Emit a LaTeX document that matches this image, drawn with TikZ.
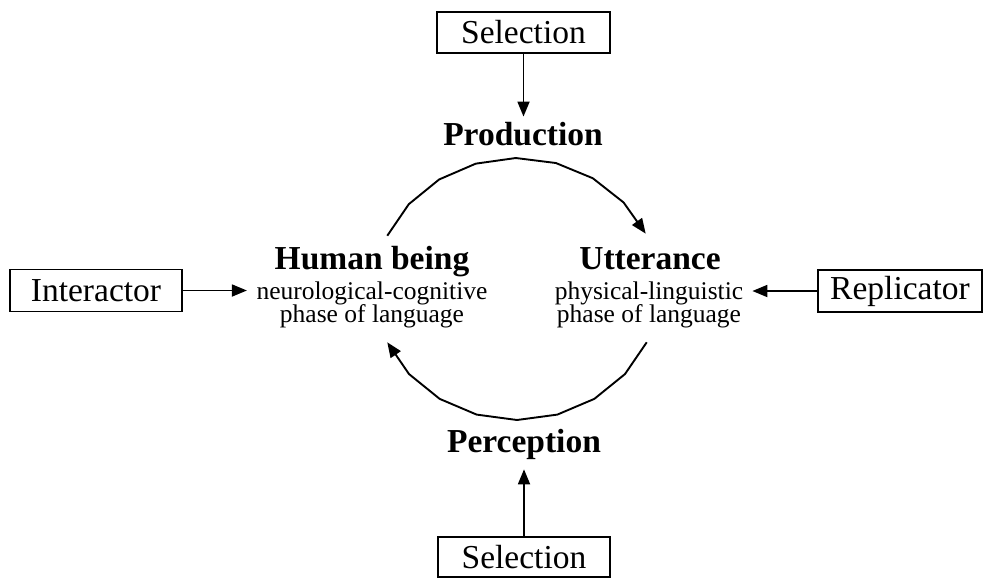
\documentclass[tikz,border=0pt]{standalone}
\usepackage{fontspec}
\setmainfont{Liberation Serif}
\usetikzlibrary{arrows.meta}
\begin{document}
\begin{tikzpicture}[x=1pt,y=1pt,
  box/.style={draw, line width=1.6pt, inner sep=0pt, font=\fontsize{33.5}{36}\selectfont},
  title/.style={font=\fontsize{33.5}{36}\selectfont\bfseries, inner sep=0pt},
  sub/.style={font=\fontsize{25.5}{28}\selectfont, inner sep=0pt},
  arr/.style={line width=1.8pt, -{Triangle[length=15pt,width=12pt]}},
  cyc/.style={line width=1.9pt, line join=round, -{Triangle[length=15pt,width=12pt]}},
]
\useasboundingbox (0,0) rectangle (983,-579);
% boxes
\node[box, minimum width=173pt, minimum height=41pt] (sel1) at (523.5,-32.5) {Selection};
\node[box, minimum width=172pt, minimum height=40pt] (sel2) at (524,-557) {Selection};
\node[box, minimum width=172pt, minimum height=42pt] (inter) at (96,-290.5) {Interactor};
\node[box, minimum width=164pt, minimum height=42pt] (rep) at (900,-291) {Replicator};
% titles
\node[title, anchor=base] (prod) at (523,-145) {Production};
\node[title, anchor=base] (perc) at (524,-452) {Perception};
\node[title, anchor=base] (hb) at (372,-269) {Human being};
\node[sub, anchor=base] (hb1) at (372,-299) {neurological-cognitive};
\node[sub, anchor=base] (hb2) at (372,-322) {phase of language};
\node[title, anchor=base] (ut) at (650,-269) {Utterance};
\node[sub, anchor=base] (ut1) at (649,-299) {physical-linguistic};
\node[sub, anchor=base] (ut2) at (649,-322) {phase of language};
% arrows
\draw[arr, shorten >=5pt] (sel1.south) -- (sel1.south |- prod.north);
\draw[arr, shorten >=10pt] (sel2.north) -- (sel2.north |- perc.south);
\draw[arr, shorten >=9.5pt] (inter.east) -- (inter.east -| hb1.west);
\draw[arr, shorten >=9pt] (rep.west) -- (rep.west -| ut1.east);
% cycle
\draw[cyc] plot[samples=9, domain=156:25] ({517+142*cos(\x)},{-289+131*sin(\x)});
\draw[cyc] plot[samples=9, domain=-24:-156] ({517+142*cos(\x)},{-289+131*sin(\x)});
\end{tikzpicture}
\end{document}
